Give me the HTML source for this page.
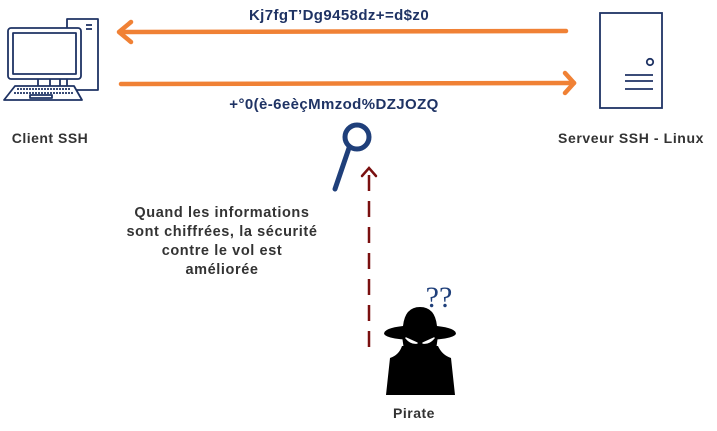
<!DOCTYPE html>
<html><head><meta charset="utf-8"><style>
body{margin:0;width:717px;height:431px;background:#fff;overflow:hidden}
svg{display:block}
text{font-family:"Liberation Sans",sans-serif;font-weight:bold}
</style></head><body>
<svg width="717" height="431" viewBox="0 0 717 431">
<g fill="none" stroke="#1f3364" stroke-width="1.8" stroke-linejoin="round">
<rect x="67" y="19" width="31" height="71"/>
<line x1="86" y1="25" x2="92" y2="25"/><line x1="86" y1="29" x2="92" y2="29"/>
<rect x="8" y="28" width="73" height="51" rx="3" fill="#fff"/>
<rect x="13" y="33" width="63" height="41"/>
<line x1="38" y1="79" x2="38" y2="86"/><line x1="50" y1="79" x2="50" y2="86"/><line x1="60" y1="79" x2="60" y2="86"/>
<path d="M15 86 L74 86 L82 100 L4 100 Z" fill="#fff"/>
<line x1="17" y1="89" x2="70" y2="89" stroke-dasharray="2 1"/>
<line x1="14" y1="93" x2="74" y2="93" stroke-dasharray="2 1"/>
<rect x="30" y="95" width="22" height="3"/>
</g>
<g fill="none" stroke="#1f3364" stroke-width="1.8">
<rect x="600" y="13" width="62" height="95"/>
<circle cx="650" cy="62" r="3.2"/>
<line x1="625" y1="75" x2="653" y2="75"/><line x1="625" y1="81" x2="653" y2="81"/><line x1="625" y1="89" x2="653" y2="89"/>
</g>
<g stroke="#f08135" stroke-width="4.5" fill="none" stroke-linecap="round" stroke-linejoin="round">
<line x1="120" y1="32" x2="566" y2="31"/>
<polyline points="131,22 119,32 131,42"/>
<line x1="121" y1="84" x2="574" y2="83"/>
<polyline points="565,73 574,83 565,93"/>
</g>
<text x="339" y="20" font-size="15" letter-spacing="0.4" fill="#1f3364" text-anchor="middle">Kj7fgT’Dg9458dz+=d$z0</text>
<text x="334" y="109" font-size="15" letter-spacing="0.4" fill="#1f3364" text-anchor="middle">+°0(è-6eèçMmzod%DZJOZQ</text>
<text x="50" y="143" font-size="14" letter-spacing="0.5" fill="#333" text-anchor="middle">Client SSH</text>
<text x="631" y="143" font-size="14" letter-spacing="0.6" fill="#333" text-anchor="middle">Serveur SSH - Linux</text>
<g stroke="#1f3f7a" stroke-width="5" fill="none" stroke-linecap="round">
<circle cx="357" cy="137" r="12"/>
<line x1="349" y1="148" x2="335" y2="189"/>
</g>
<g stroke="#7a1010" stroke-width="2.5" fill="none">
<line x1="369" y1="347" x2="369" y2="172" stroke-dasharray="16 10"/>
<polyline points="362,176 369,168 376,176" stroke-linecap="round"/>
</g>
<g font-size="14.5" letter-spacing="0.6" fill="#333" text-anchor="middle">
<text x="222" y="217">Quand les informations</text>
<text x="222" y="236">sont chiffrées, la sécurité</text>
<text x="222" y="255">contre le vol est</text>
<text x="222" y="274">améliorée</text>
</g>
<text x="439" y="307" font-size="30" fill="#1f3f7a" text-anchor="middle" style="font-family:'Liberation Serif',serif;font-weight:normal">??</text>
<path d="M402 346 Q399 355 390 358 L386 395 L455 395 L451 358 Q442 355 438 346 Z" fill="#000"/>
<path d="M403 326 Q405 307 420 307 Q435 307 437 326 Q456 328 456 334 Q452 340 420 340 Q388 340 384 334 Q384 328 403 326 Z" fill="#000"/>
<path d="M402 336 Q420 333 438 336 L436 350 Q420 356 404 350 Z" fill="#000"/>
<path d="M406 338 Q411 344 417 343 Z M434 338 Q429 344 423 343 Z" fill="#fff" stroke="#fff" stroke-width="1.5" stroke-linejoin="round"/>
<text x="414" y="418" font-size="14" letter-spacing="0.5" fill="#333" text-anchor="middle">Pirate</text>
</svg>
</body></html>
